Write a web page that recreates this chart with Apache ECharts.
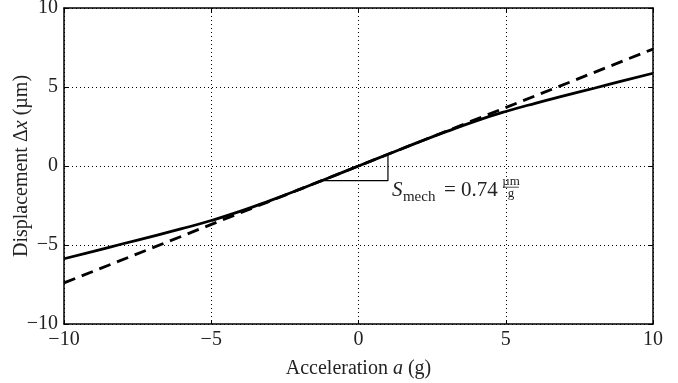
<!DOCTYPE html>
<html>
<head>
<meta charset="utf-8">
<script src="https://cdn.jsdelivr.net/npm/echarts@6/dist/echarts.min.js"></script>
<style>html,body{margin:0;padding:0;background:#fff}#c{width:678px;height:383px}</style>
</head>
<body>
<div id="c"></div>
<script>
// Data
var accel = [-10,-9,-8,-7,-6,-5,-4,-3,-2,-1,0,1,2,3,4,5,6,7,8,9,10];
var displacement = [-5.87,-5.4,-4.92,-4.45,-3.97,-3.45,-2.86,-2.19,-1.48,-0.74,0,0.74,1.48,2.19,2.86,3.45,3.97,4.45,4.92,5.4,5.87];
var linearX = [-10, 10];
var linearY = [-7.4, 7.4];
var triX = [-1.25, 1, 1];
var triY = [-0.93, -0.93, 0.74];
var xTicks = [-10, -5, 0, 5, 10];
var yTicks = [-10, -5, 0, 5, 10];
var slopeText = '0.74';

var FONT = '"Liberation Serif", "DejaVu Serif", serif';
function fmt(v){ return String(v).replace('-', '\u2212'); }
function pairs(xs, ys){ return xs.map(function(x,i){ return [x, ys[i]]; }); }

var chart = echarts.init(document.getElementById('c'), null, {renderer:'canvas'});
var axisCommon = {
  min: -10, max: 10, interval: 5,
  axisLine: {show:true, onZero:false, lineStyle:{color:'#000', width:1.5}},
  axisTick: {show:true, inside:true, length:4, lineStyle:{color:'#000', width:1}},
  splitLine: {show:false}
};
var option = {
  animation: false,
  backgroundColor: '#fff',
  grid: {left:64, right:25, top:8, bottom:59, containLabel:false, outerBoundsMode:'none'},
  xAxis: [
    Object.assign({}, axisCommon, {
      type:'value', position:'bottom',
      axisLabel: {show:true, margin:6, color:'#222', fontFamily:FONT, fontSize:20, formatter: fmt, showMinLabel:true, showMaxLabel:true},
      splitLine: {show:true, lineStyle:{color:'#000', width:1, type:[1,3]}},
      name: 'Acceleration {i|a} (g)', nameLocation:'middle', nameGap:35, nameMoveOverlap:false,
      nameTextStyle: {color:'#222', fontFamily:FONT, fontSize:20, rich:{i:{fontStyle:'italic', fontFamily:FONT, fontSize:20, color:'#222'}}}
    }),
    Object.assign({}, axisCommon, {type:'value', position:'top', axisLabel:{show:false}})
  ],
  yAxis: [
    Object.assign({}, axisCommon, {
      type:'value', position:'left',
      axisLabel: {show:true, margin:6, color:'#222', fontFamily:FONT, fontSize:20, formatter: fmt, showMinLabel:true, showMaxLabel:true},
      splitLine: {show:true, lineStyle:{color:'#000', width:1, type:[1,3]}},
      name: 'Displacement \u0394{i|x} (\u00b5m)', nameLocation:'middle', nameGap:32, nameRotate:90, nameMoveOverlap:false,
      nameTextStyle: {color:'#222', fontFamily:FONT, fontSize:20, rich:{i:{fontStyle:'italic', fontFamily:FONT, fontSize:20, color:'#222'}}}
    }),
    Object.assign({}, axisCommon, {type:'value', position:'right', axisLabel:{show:false}})
  ],
  series: [
    {type:'line', data: pairs(linearX, linearY), showSymbol:false, symbol:'none',
     lineStyle:{color:'#000', width:2.8, type:[12,7]}, z:3},
    {type:'line', data: pairs(accel, displacement), showSymbol:false, symbol:'none', smooth:true,
     lineStyle:{color:'#000', width:2.8}, z:4},
    {type:'line', data: pairs(triX, triY), showSymbol:false, symbol:'none',
     lineStyle:{color:'#000', width:1.2}, z:2}
  ]
};
chart.setOption(option);

var p = chart.convertToPixel({xAxisIndex:0, yAxisIndex:0}, [triX[1], triY[1]]);
var ax = p[0] + 4, ay = p[1] + 16;
function t(text, x, y, size, italic, align){
  return {type:'text', x:x, y:y, z:10, style:{text:text, fill:'#222', fontFamily:FONT, fontSize:size,
    fontStyle: italic ? 'italic' : 'normal', align: align || 'left', verticalAlign:'bottom'}};
}
chart.setOption({
  graphic: [
    t('S', ax, ay + 4, 21, true),
    t('mech', ax + 11, ay + 8, 15, false),
    t('= ' + slopeText, ax + 52, ay + 4, 21, false),
    t('\u00b5m', ax + 119, ay - 9, 13, false, 'center'),
    {type:'line', z:10, shape:{x1: ax + 111, y1: ay - 9.5, x2: ax + 127, y2: ay - 9.5}, style:{stroke:'#222', lineWidth:0.8}},
    t('g', ax + 119, ay + 3, 13, false, 'center')
  ]
});
</script>
</body>
</html>
